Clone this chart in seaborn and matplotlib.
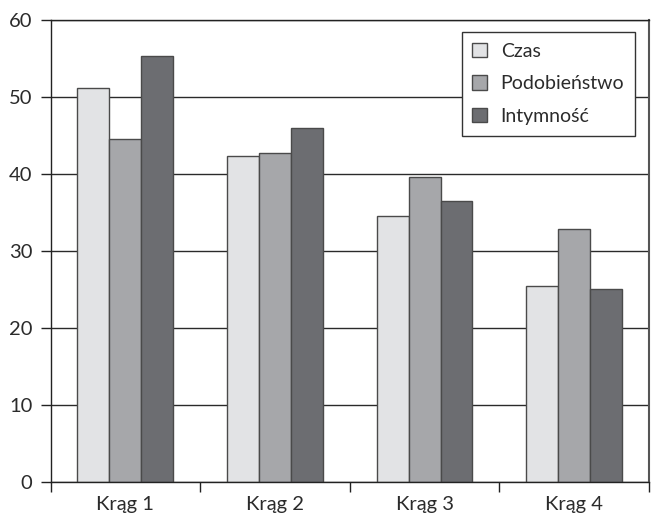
import matplotlib
matplotlib.use("Agg")
import matplotlib.pyplot as plt
from matplotlib.ticker import FixedLocator, NullFormatter
import seaborn as sns
import pandas as pd

# Data
circles = ["Krąg 1", "Krąg 2", "Krąg 3", "Krąg 4"]
series = ["Czas", "Podobieństwo", "Intymność"]
czas = [51.2, 42.3, 34.5, 25.5]
podobienstwo = [44.5, 42.7, 39.6, 32.8]
intymnosc = [55.3, 46.0, 36.5, 25.1]
y_ticks = [0, 10, 20, 30, 40, 50, 60]

colors = ["#e2e3e5", "#a6a7aa", "#6c6d71"]

rows = []
for name, vals in zip(series, [czas, podobienstwo, intymnosc]):
    for c, v in zip(circles, vals):
        rows.append({"krag": c, "seria": name, "wartosc": v})
df = pd.DataFrame(rows)

sns.set_style("white")
plt.rcParams["font.family"] = ["Lato", "DejaVu Sans"]

fig = plt.figure(figsize=(6.51, 5.15), dpi=100)
ax = fig.add_axes([50.5 / 651, 1 - 482 / 515, (649 - 50.5) / 651, (482 - 20) / 515])

sns.barplot(
    data=df, x="krag", y="wartosc", hue="seria", order=circles, hue_order=series,
    palette=colors, width=0.64, gap=0, edgecolor="#4a4a4a", linewidth=1.0,
    saturation=1, ax=ax, errorbar=None,
)

ax.set_xlim(-0.5, len(circles) - 0.5)
ax.set_ylim(0, 60)
ax.set_yticks(y_ticks)
ax.set_axisbelow(True)
ax.yaxis.grid(True, color="#2a2a2a", linewidth=1.0)
ax.xaxis.grid(False)

# category boundary ticks, labels at centres
ax.xaxis.set_major_locator(FixedLocator([i - 0.5 for i in range(len(circles) + 1)]))
ax.xaxis.set_major_formatter(NullFormatter())
ax.xaxis.set_minor_locator(FixedLocator(list(range(len(circles)))))
ax.set_xticklabels(circles, minor=True)
ax.tick_params(axis="x", which="major", direction="out", length=7, width=1, color="#222222", bottom=True)
ax.tick_params(axis="x", which="minor", length=0, pad=10, labelsize=14.5, labelcolor="#2b2b2b")
ax.tick_params(axis="y", direction="out", length=7, width=1, color="#222222", left=True,
               pad=6, labelsize=14.5, labelcolor="#2b2b2b")

ax.set_xlabel("")
ax.set_ylabel("")

for side in ["left", "bottom", "right", "top"]:
    ax.spines[side].set_visible(True)
    ax.spines[side].set_linewidth(1.0)
    ax.spines[side].set_color("#222222")
ax.spines["right"].set_color("#555555")
ax.spines["right"].set_linewidth(1.5)

leg = ax.legend(
    loc="upper right", bbox_to_anchor=((635 - 50.5) / 598.5, (482 - 32) / 462),
    borderaxespad=0, fancybox=False, framealpha=1, edgecolor="#333333",
    fontsize=14, handlelength=0.75, handleheight=0.75, labelspacing=0.8,
    handletextpad=0.7, borderpad=0.55, title=None,
)
leg.get_frame().set_linewidth(1.0)
for t in leg.get_texts():
    t.set_color("#2b2b2b")

fig.savefig("out.png", dpi=100)
